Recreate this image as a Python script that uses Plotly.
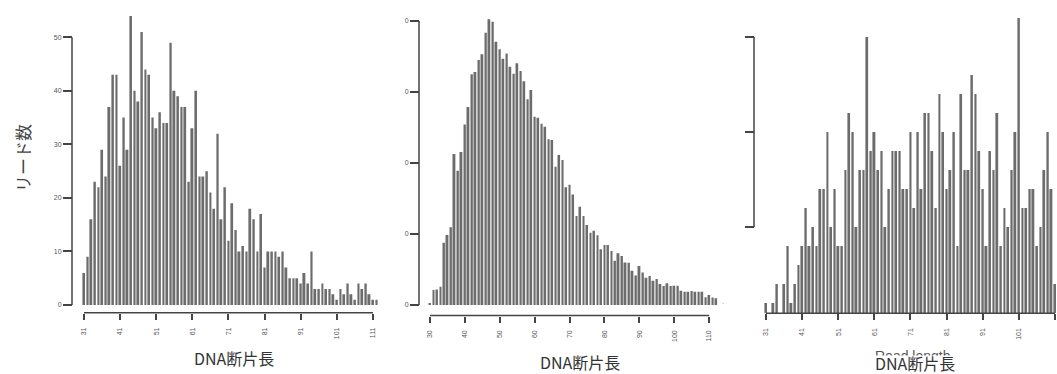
import plotly.graph_objects as go

# ---------------- data ----------------
len1 = list(range(31, 113))
cnt1 = [6, 9, 16, 23, 22, 29, 24, 37, 43, 43,
        26, 35, 29, 54, 40, 38, 51, 44, 43, 35,
        33, 36, 34, 34, 49, 40, 39, 37, 37, 23,
        33, 40, 24, 24, 25, 21, 18, 32, 16, 22,
        12, 19, 14, 10, 11, 10, 18, 16, 10, 17,
        7, 10, 10, 10, 9, 10, 7, 5, 5, 5,
        4, 6, 4, 10, 3, 3, 4, 3, 3, 2,
        1, 3, 2, 4, 2, 1, 4, 3, 4, 2,
        1, 1]
ticks1 = [31, 41, 51, 61, 71, 81, 91, 101, 111]
yticks1 = [0, 10, 20, 30, 40, 50]

len2 = list(range(30, 113))
cnt2 = [12, 106, 110, 129, 439, 493, 547, 1063, 946, 1077,
        1272, 1394, 1625, 1641, 1725, 1765, 1918, 2012, 1995, 1854,
        1801, 1735, 1772, 1678, 1629, 1702, 1648, 1575, 1449, 1514,
        1326, 1319, 1277, 1256, 1167, 1162, 974, 1056, 1021, 829,
        847, 779, 627, 692, 627, 563, 509, 523, 491, 392,
        423, 423, 380, 312, 364, 345, 300, 298, 242, 207,
        275, 228, 192, 204, 171, 183, 148, 134, 153, 134,
        136, 136, 101, 94, 94, 99, 94, 94, 94, 54,
        70, 52, 47]
ticks2 = [30, 40, 50, 60, 70, 80, 90, 100, 110]
yticks2 = [0, 500, 1000, 1500, 2000]
yticktext2 = ["0", "0", "0", "0", "0"]

len3 = list(range(31, 112))
cnt3 = [1, 0, 1, 2, 0, 2, 4, 1, 2, 3,
        4, 6, 4, 5, 4, 7, 7, 10, 5, 7,
        4, 4, 8, 11, 10, 5, 8, 8, 15, 9,
        10, 8, 9, 5, 7, 9, 9, 9, 7, 7,
        10, 6, 10, 7, 11, 11, 9, 6, 12, 10,
        7, 8, 10, 4, 12, 8, 8, 13, 12, 9,
        7, 4, 9, 8, 11, 4, 6, 5, 8, 10,
        16, 6, 6, 7, 7, 4, 5, 8, 10, 7,
        2]
ticks3 = [31, 41, 51, 61, 71, 81, 91, 101, 111]
yticks3 = [5, 10, 15]

xlabel = "DNA断片長"
ylabel = "リード数"
xlabel_en = "Read length"

# ---------------- layout helpers ----------------
W, H = 1057, 374
def fx(p):
    return p / W
def fy(p):
    return 1 - p / H

BAR = "#6c6c6c"
AX = "#444444"
TICKFONT = dict(family="Liberation Sans, Arial, sans-serif", size=7, color="#555555")
CJK = "Noto Sans CJK JP, sans-serif"

fig = go.Figure()
fig.add_trace(go.Bar(x=len1, y=cnt1, marker=dict(color=BAR, line=dict(width=0)),
                     xaxis="x", yaxis="y", hoverinfo="skip"))
fig.add_trace(go.Bar(x=len2, y=cnt2, marker=dict(color=BAR, line=dict(width=0)),
                     xaxis="x2", yaxis="y2", hoverinfo="skip"))
fig.add_trace(go.Bar(x=len3, y=cnt3, marker=dict(color=BAR, line=dict(width=0)),
                     xaxis="x3", yaxis="y3", hoverinfo="skip"))

def xax(dom, rng, tickvals, pos):
    return dict(domain=[fx(dom[0]), fx(dom[1])], range=rng, tickvals=tickvals,
                ticktext=[str(v) for v in tickvals], tickangle=-90,
                ticks="outside", ticklen=6, tickwidth=1.5, tickcolor=AX,
                showline=False, showgrid=False, zeroline=False,
                anchor="free", position=fy(pos), tickfont=TICKFONT,
                ticklabelstandoff=5, automargin=False, fixedrange=True)

def yax(dom, rng, tickvals, ticktext, pos):
    return dict(domain=[fy(dom[0]), fy(dom[1])], range=rng, tickvals=tickvals,
                ticktext=ticktext, ticks="outside", ticklen=9, tickwidth=1.5,
                tickcolor=AX, showline=False, showgrid=False, zeroline=False,
                anchor="free", position=fx(pos), tickfont=TICKFONT,
                automargin=False, fixedrange=True)

fig.update_layout(
    width=W, height=H, margin=dict(l=0, r=0, t=0, b=0),
    paper_bgcolor="white", plot_bgcolor="white",
    showlegend=False, bargap=0.45,
    xaxis=xax((80.4, 380.2), [30, 113], ticks1, 312.7),
    yaxis=yax((305, 0), [0, 305 / 5.354], yticks1, [str(v) for v in yticks1], 72),
    xaxis2=xax((426.5, 721.4), [29, 113.5], ticks2, 315.5),
    yaxis2=yax((305, 0), [0, 305 / 0.142], yticks2, yticktext2, 419),
    xaxis3=xax((762.4, 1057), [30, 111.56], ticks3, 313.3),
    yaxis3=yax((313, 0), [9 / 19, 322 / 19], yticks3, ["", "", ""], 754),
)

# R-style axis lines spanning first..last tick
shapes = []
for xr, ticks, pos in (("x", ticks1, 312.7), ("x2", ticks2, 315.5), ("x3", ticks3, 313.3)):
    shapes.append(dict(type="line", xref=xr, yref="paper", x0=min(ticks), x1=max(ticks),
                       y0=fy(pos), y1=fy(pos), line=dict(color=AX, width=1.5)))
for yr, ticks, pos in (("y", yticks1, 72), ("y2", yticks2, 419), ("y3", yticks3, 754)):
    shapes.append(dict(type="line", xref="paper", yref=yr, x0=fx(pos), x1=fx(pos),
                       y0=min(ticks), y1=max(ticks), line=dict(color=AX, width=1.5)))
fig.update_layout(shapes=shapes)

ann = []
# partially hidden english label in panel 3 (its lower half is covered)
ann.append(dict(text=xlabel_en, x=fx(913), y=fy(355.5), xref="paper", yref="paper",
                showarrow=False, font=dict(family="Liberation Sans, Arial", size=14, color="#555"),
                xanchor="center", yanchor="middle"))
ann.append(dict(text=" ", x=fx(913), y=fy(354.5), xref="paper", yref="paper",
                showarrow=False, width=110, height=14, bgcolor="white",
                xanchor="center", yanchor="top", borderpad=0))
# stray dot left of panel 3
ann.append(dict(text=".", x=fx(723), y=fy(301), xref="paper", yref="paper",
                showarrow=False, font=dict(family="Liberation Sans", size=8, color="#777"),
                xanchor="center", yanchor="middle"))
for cx, cy in ((234, 358), (580, 362), (915, 362.5)):
    ann.append(dict(text=xlabel, x=fx(cx), y=fy(cy), xref="paper", yref="paper",
                    showarrow=False, font=dict(family=CJK, size=16, color="#333333"),
                    xanchor="center", yanchor="middle"))
ann.append(dict(text=ylabel, x=fx(22), y=fy(158), xref="paper", yref="paper",
                showarrow=False, textangle=-90,
                font=dict(family=CJK, size=17, color="#444444"),
                xanchor="center", yanchor="middle"))
fig.update_layout(annotations=ann)

fig.write_html("out.html")
